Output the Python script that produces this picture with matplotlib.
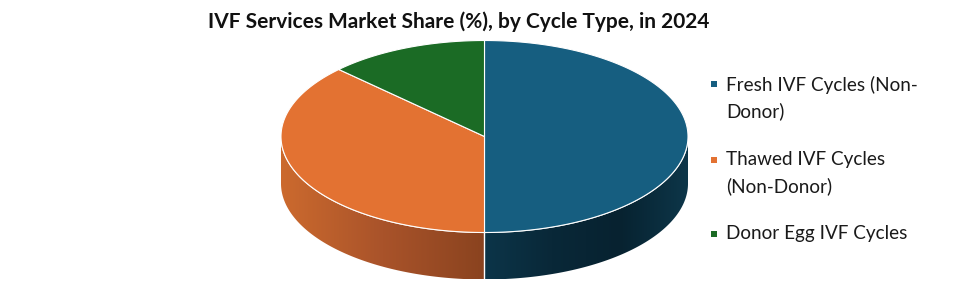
import numpy as np
import matplotlib
matplotlib.use("Agg")
import matplotlib.pyplot as plt
from matplotlib.patches import Polygon, Rectangle
from matplotlib.colors import LinearSegmentedColormap

# data
labels = ["Fresh IVF Cycles (Non-\nDonor)", "Thawed IVF Cycles\n(Non-Donor)", "Donor Egg IVF Cycles"]
shares = [50.0, 37.3, 12.7]
top_colors = ["#165E80", "#E37232", "#1B6B25"]
side_colors = [["#0C3549", "#092838", "#072230", "#0D3649"],
               ["#CC6A2E", "#A9532A", "#8A431F"],
               ["#124F20", "#0C3D17"]]

plt.rcParams["font.family"] = ["Lato", "DejaVu Sans"]

fig = plt.figure(figsize=(9.69, 2.85), dpi=100)
ax = fig.add_axes([0, 0, 1, 1])
ax.set_xlim(0, 969)
ax.set_ylim(285, 0)
ax.axis("off")

cx, cy, a, b, depth = 484.5, 136.5, 203.5, 96.0, 47.0


def pt(t, dy=0.0):
    return cx + a * np.cos(t), cy - b * np.sin(t) + dy


# angles: start at top, go clockwise
starts = []
ang = 90.0
for s in shares:
    end = ang - s * 3.6
    starts.append((ang, end))
    ang = end

# side walls (front half only, sin t < 0)
for (t_start, t_end), cols in zip(starts, side_colors):
    lo, hi = min(t_start, t_end), max(t_start, t_end)
    segs = []
    for k in range(-1, 2):
        vlo, vhi = 180 + 360 * k, 360 + 360 * k
        s0, s1 = max(lo, vlo), min(hi, vhi)
        if s1 > s0:
            segs.append((s0, s1))
    for s0, s1 in segs:
        tt = np.radians(np.linspace(s0, s1, 200))
        xs, ys = pt(tt)
        xb, yb = pt(tt[::-1], depth)
        poly = np.column_stack([np.r_[xs, xb], np.r_[ys, yb]])
        patch = Polygon(poly, closed=True, facecolor="none", edgecolor="none")
        ax.add_patch(patch)
        cmap = LinearSegmentedColormap.from_list("side", cols)
        grad = np.linspace(0, 1, 256).reshape(1, -1)
        im = ax.imshow(grad, cmap=cmap, aspect="auto",
                       extent=[xs.min(), xs.max(), ys.max() + depth, ys.min()],
                       zorder=1)
        im.set_clip_path(patch)
        ax.plot(xs, ys, color="white", lw=0.8, zorder=2)

# vertical white seam at the bottom between the slices
x0, y0 = pt(np.radians(-90))
ax.plot([x0, x0], [y0, y0 + depth], color="white", lw=1.0, zorder=3)

# top faces
for (t_start, t_end), col in zip(starts, top_colors):
    tt = np.radians(np.linspace(t_start, t_end, 300))
    xs, ys = pt(tt)
    poly = np.column_stack([np.r_[cx, xs], np.r_[cy, ys]])
    ax.add_patch(Polygon(poly, closed=True, facecolor=col, edgecolor="white",
                         lw=0.8, joinstyle="round", zorder=4))

ax.text(459, 28, "IVF Services Market Share (%), by Cycle Type, in 2024",
        ha="center", va="baseline", fontsize=15, fontweight="bold", color="#111111")

# legend
base_y = [90.7, 165.0, 239.0]
sq_y = [83.7, 159.7, 233.7]
for lab, col, by, sy in zip(labels, top_colors, base_y, sq_y):
    ax.add_patch(Rectangle((710.7, sy - 3.2), 6.4, 6.4, facecolor=col, edgecolor="none"))
    for i, line in enumerate(lab.split("\n")):
        ax.text(726, by + i * 26.8, line, ha="left", va="baseline",
                fontsize=13.6, color="#1a1a1a")

fig.savefig("out.png", dpi=100)
